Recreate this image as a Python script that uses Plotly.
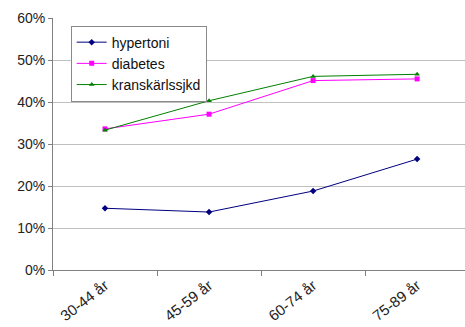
import plotly.graph_objects as go

categories = ["30-44 år", "45-59 år", "60-74 år", "75-89 år"]
hypertoni = [0.147, 0.138, 0.188, 0.264]
diabetes = [0.336, 0.371, 0.451, 0.455]
kranskarlssjkd = [0.333, 0.403, 0.461, 0.466]
y_ticks = [0, 0.1, 0.2, 0.3, 0.4, 0.5, 0.6]

series = [
    ("hypertoni", hypertoni, "#000080", "diamond", 5),
    ("diabetes", diabetes, "#FF00FF", "square", 5),
    ("kranskärlssjkd", kranskarlssjkd, "#008000", "triangle-up", 5),
]

fig = go.Figure()
for name, vals, color, symbol, size in series:
    fig.add_trace(go.Scatter(
        x=categories, y=vals, name=name, mode="lines+markers",
        line=dict(color=color, width=1),
        marker=dict(symbol=symbol, size=size, color=color),
    ))

fig.update_layout(
    width=465, height=327,
    margin=dict(l=53, r=0, t=18, b=57),
    paper_bgcolor="white", plot_bgcolor="white",
    font=dict(family="Liberation Sans, Arial, sans-serif", size=13, color="#222222"),
    showlegend=True,
    legend=dict(
        x=0.043, y=0.97, xanchor="left", yanchor="top",
        bordercolor="#8a8a8a", borderwidth=1, bgcolor="white",
        font=dict(size=14, color="#111111"),
        tracegroupgap=0, itemwidth=30,
    ),
)
fig.update_xaxes(
    type="category", range=[-0.5, 3.46], automargin=False,
    showline=True, linecolor="#808080", linewidth=1,
    ticks="outside", ticklen=5, tickcolor="#808080",
    tickson="boundaries", tickangle=-38, showgrid=False,
    tickfont=dict(size=15, color="#222222"),
)
fig.update_yaxes(
    range=[0, 0.6], tickvals=y_ticks, tickformat=".0%", automargin=False,
    showline=True, linecolor="#808080", linewidth=1,
    ticks="outside", ticklen=4, tickcolor="#808080",
    showgrid=True, gridcolor="#c0c0c0", gridwidth=1,
    zeroline=False, tickfont=dict(size=14, color="#222222"),
)

fig.write_html("out.html")
